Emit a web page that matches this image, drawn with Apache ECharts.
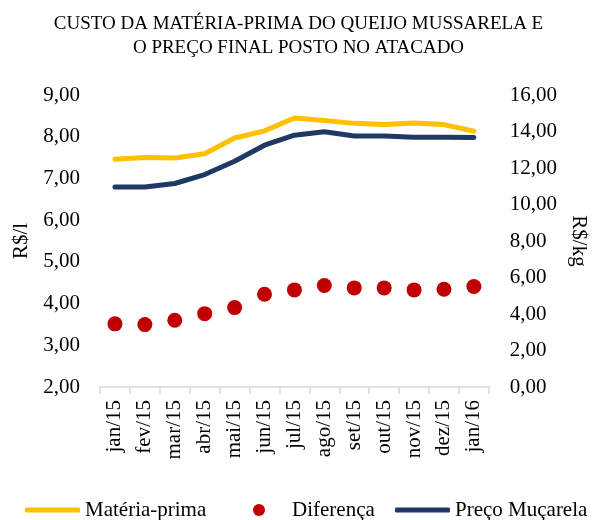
<!DOCTYPE html>
<html>
<head>
<meta charset="utf-8">
<script src="https://cdn.jsdelivr.net/npm/echarts@6/dist/echarts.min.js"></script>
<style>html,body{margin:0;padding:0;background:#fff}#c{width:597px;height:520px}</style>
</head>
<body>
<div id="c"></div>
<script>
const categories = ['jan/15','fev/15','mar/15','abr/15','mai/15','jun/15','jul/15','ago/15','set/15','out/15','nov/15','dez/15','jan/16'];
const materiaPrima = [7.46, 7.50, 7.49, 7.59, 7.97, 8.14, 8.45, 8.39, 8.32, 8.29, 8.33, 8.29, 8.13];
const diferenca = [3.46, 3.42, 3.66, 4.02, 4.35, 5.08, 5.32, 5.56, 5.43, 5.43, 5.32, 5.36, 5.51];
const precoMucarela = [10.96, 10.96, 11.15, 11.64, 12.37, 13.25, 13.80, 13.99, 13.75, 13.75, 13.69, 13.69, 13.67];

const FONT = 'Liberation Serif';
const fmt = v => v.toFixed(2).replace('.', ',');
const legendText = { fontFamily: FONT, fontSize: 21, color: '#000', lineHeight: 22 };
const chart = echarts.init(document.getElementById('c'));
chart.setOption({
  animation: false,
  textStyle: { fontFamily: FONT, color: '#000' },
  title: {
    text: 'CUSTO DA MATÉRIA-PRIMA DO QUEIJO MUSSARELA E\nO PREÇO FINAL POSTO NO ATACADO',
    left: 'center', top: 7,
    textStyle: { fontFamily: FONT, fontSize: 19, fontWeight: 'normal', color: '#000', lineHeight: 24 }
  },
  legend: [
    { left: 25, top: 499, padding: 0, itemWidth: 55, itemHeight: 5, itemGap: 0,
      data: [{ name: 'Matéria-prima', icon: 'roundRect' }], textStyle: legendText },
    { left: 253, top: 499, padding: 0, itemWidth: 12, itemHeight: 12, itemGap: 0,
      data: [{ name: 'Diferença', icon: 'circle' }],
      textStyle: Object.assign({}, legendText, { padding: [0, 0, 0, 22] }) },
    { left: 395, top: 499, padding: 0, itemWidth: 55, itemHeight: 5, itemGap: 0,
      data: [{ name: 'Preço Muçarela', icon: 'roundRect' }], textStyle: legendText }
  ],
  grid: { left: 100, right: 98, top: 95, bottom: 133 },
  xAxis: {
    type: 'category', data: categories, boundaryGap: true,
    axisLine: { lineStyle: { color: '#d9d9d9', width: 1.5 } },
    axisTick: { show: true, length: 7, lineStyle: { color: '#d9d9d9', width: 1.5 } },
    axisLabel: { rotate: 90, margin: 13, fontFamily: FONT, fontSize: 21, color: '#000', interval: 0 }
  },
  yAxis: [
    { type: 'value', min: 2, max: 9, interval: 1, name: 'R$/l', nameLocation: 'middle', nameGap: 68,
      nameTextStyle: { fontFamily: FONT, fontSize: 21, color: '#000' },
      axisLine: { show: false }, axisTick: { show: false }, splitLine: { show: false },
      axisLabel: { margin: 20, fontFamily: FONT, fontSize: 21, color: '#000', formatter: fmt } },
    { type: 'value', min: 0, max: 16, interval: 2, name: 'R$/kg', nameLocation: 'middle', nameGap: 79, nameRotate: -90,
      nameTextStyle: { fontFamily: FONT, fontSize: 21, color: '#000' },
      axisLine: { show: false }, axisTick: { show: false }, splitLine: { show: false },
      axisLabel: { margin: 21, fontFamily: FONT, fontSize: 21, color: '#000', formatter: fmt } }
  ],
  series: [
    { name: 'Matéria-prima', type: 'line', yAxisIndex: 0, data: materiaPrima, symbol: 'none',
      itemStyle: { color: '#FFC000' },
      lineStyle: { color: '#FFC000', width: 5, cap: 'round', join: 'round' } },
    { name: 'Diferença', type: 'scatter', yAxisIndex: 1, data: diferenca, symbol: 'circle', symbolSize: 15,
      itemStyle: { color: '#C00000', opacity: 1 } },
    { name: 'Preço Muçarela', type: 'line', yAxisIndex: 1, data: precoMucarela, symbol: 'none',
      itemStyle: { color: '#203864' },
      lineStyle: { color: '#203864', width: 5, cap: 'round', join: 'round' } }
  ]
});
</script>
</body>
</html>
